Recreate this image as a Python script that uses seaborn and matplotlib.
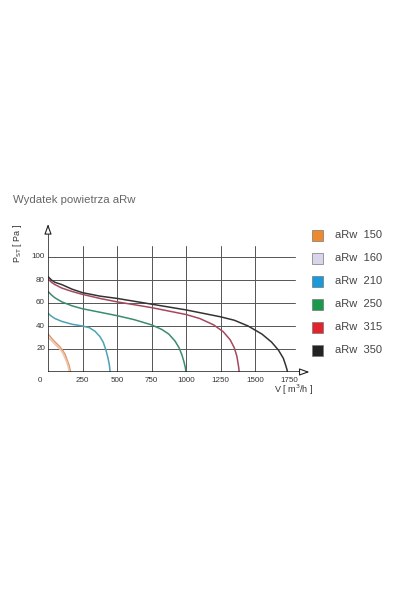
import numpy as np
import pandas as pd
import matplotlib
matplotlib.use('Agg')
import matplotlib.pyplot as plt
from matplotlib.patches import Rectangle
import seaborn as sns

# fan curves: V [m3/h], P_st [Pa]
models = ['aRw 150', 'aRw 160', 'aRw 210', 'aRw 250', 'aRw 315', 'aRw 350']
legend_colors = ['#ee8a2e', '#d8d5ea', '#1a9ad8', '#19994a', '#e2232b', '#232323']
curve_colors = ['#e19a6e', '#ecc6ae', '#4aa3b3', '#3a8c6c', '#a5485c', '#333333']

v_150 = [0, 15, 35, 60, 85, 105, 125, 140, 152, 160, 163]
p_150 = [33, 31, 28, 25, 22, 19, 15, 10, 6, 2, 0]
v_160 = [0, 15, 35, 60, 85, 105, 120, 135, 145, 152, 155]
p_160 = [30, 28.5, 26, 23, 20, 17, 13, 9, 5, 2, 0]
v_210 = [0, 25, 50, 100, 175, 250, 300, 340, 375, 400, 420, 435, 445, 450]
p_210 = [51, 48.5, 46.5, 44, 41.5, 40, 38.5, 35.5, 31, 26, 19, 12, 6, 0]
v_250 = [0, 25, 50, 100, 175, 250, 375, 500, 625, 750, 825, 875, 920, 950,
         970, 985, 995, 1000]
p_250 = [70, 67, 64.5, 61, 57.5, 55, 52, 49, 45.5, 41, 37, 33, 27, 21,
         15, 9, 4, 0]
v_315 = [0, 25, 50, 100, 175, 250, 375, 500, 625, 750, 875, 1000, 1100, 1200,
         1270, 1320, 1350, 1368, 1378, 1383, 1385]
p_315 = [81, 78, 76, 73, 70, 67.5, 64, 61, 58.5, 56, 53, 50, 46.5, 41,
         35, 28, 21, 14, 7, 3, 0]
v_350 = [0, 25, 50, 100, 175, 250, 375, 500, 625, 750, 875, 1000, 1125, 1250,
         1350, 1450, 1550, 1620, 1670, 1705, 1722, 1732, 1735]
p_350 = [83, 80, 78, 76, 72, 69, 66, 64, 61.5, 59, 56.5, 54, 51, 48,
         45, 40, 33, 26, 19, 12, 6, 2, 0]

x_ticks = [250, 500, 750, 1000, 1250, 1500, 1750]
y_ticks = [20, 40, 60, 80, 100]

rows = []
for name, vs, ps in zip(models,
                        [v_150, v_160, v_210, v_250, v_315, v_350],
                        [p_150, p_160, p_210, p_250, p_315, p_350]):
    for v, p in zip(vs, ps):
        rows.append({'model': name, 'V': v, 'P': p})
df = pd.DataFrame(rows)

sns.set_theme(style='white')
plt.rcParams['font.family'] = ['Liberation Sans', 'DejaVu Sans']

W, H = 401, 601
fig = plt.figure(figsize=(W / 100, H / 100), dpi=100)
fig.patch.set_facecolor('white')

# axes placed in pixels: V=0 at x=48, P=0 at y=372
px_v = 34.5 / 250
px_p = 1.15
left, right, bottom, top = 48, 322, 372, 215
ax = fig.add_axes([left / W, 1 - bottom / H, (right - left) / W, (bottom - top) / H])
ax.set_xlim(0, (right - left) / px_v)
ax.set_ylim(0, (bottom - top) / px_p)
ax.axis('off')

grid_kw = dict(color='#555555', lw=0.7, zorder=1)
for y in y_ticks:
    ax.plot([0, 1790], [y, y], **grid_kw)
for x in x_ticks[:-1]:
    ax.plot([x, x], [0, 110], **grid_kw)

sns.lineplot(data=df, x='V', y='P', hue='model', palette=curve_colors,
             estimator=None, sort=False, lw=1.1, legend=False, ax=ax, zorder=3)

# axes with open arrow heads
ax.plot([0, 0], [0, 127], color='#222222', lw=1.1, zorder=4)
ax.plot([0, 1880], [0, 0], color='#222222', lw=1.1, zorder=4)
ax.annotate('', xy=(0, 131), xytext=(0, 121),
            arrowprops=dict(arrowstyle='-|>,head_width=0.18,head_length=0.5',
                            fc='white', ec='#222222', lw=0.8), zorder=5)
ax.annotate('', xy=(1915, 0), xytext=(1840, 0),
            arrowprops=dict(arrowstyle='-|>,head_width=0.18,head_length=0.5',
                            fc='white', ec='#222222', lw=0.8), zorder=5)

tick_kw = dict(fontsize=5.8, color='#333333')
for x in x_ticks:
    ax.text(x, -4, str(x), ha='center', va='top', **tick_kw)
for y in y_ticks:
    ax.text(-22, y, str(y), ha='right', va='center', **tick_kw)
ax.text(-40, -4, '0', ha='right', va='top', **tick_kw)

fig.text(13 / W, 1 - 200 / H, 'Wydatek powietrza aRw', fontsize=8.2,
         color='#666666', ha='left', va='center')
fig.text(18 / W, 1 - 243 / H, r'P$_{\mathrm{ST}}$ [ Pa ]', fontsize=6.5,
         color='#333333', rotation=90, ha='center', va='center')
fig.text(313 / W, 1 - 390 / H, r'V [ m$^3$/h ]', fontsize=6.5,
         color='#333333', ha='right', va='center')

# legend
for i, (name, c) in enumerate(zip(models, legend_colors)):
    yc = 235 + i * 23
    fig.patches.append(Rectangle((312 / W, 1 - (yc + 5.5) / H), 11 / W, 11 / H,
                                 transform=fig.transFigure, fc=c, ec='#777777', lw=0.5))
    label = name.replace(' ', '  ')
    fig.text(335 / W, 1 - yc / H, label, fontsize=8, color='#444444',
             ha='left', va='center')

fig.savefig('out.png', dpi=100)
